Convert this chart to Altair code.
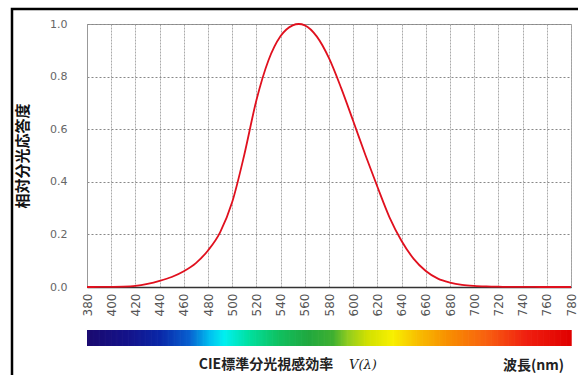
import altair as alt
import pandas as pd

# CIE photopic luminous efficiency V(lambda)
wavelengths = [380, 390, 400, 410, 420, 430, 440, 450, 460, 470, 480, 490, 500,
               510, 520, 530, 540, 550, 555, 560, 570, 580, 590, 600, 610, 620,
               630, 640, 650, 660, 670, 680, 690, 700, 710, 720, 730, 740, 750,
               760, 770, 780]
v_lambda = [0.00004, 0.00012, 0.0004, 0.0012, 0.004, 0.0116, 0.023, 0.038, 0.060,
            0.091, 0.139, 0.208, 0.323, 0.503, 0.710, 0.862, 0.954, 0.995, 1.000,
            0.995, 0.952, 0.870, 0.757, 0.631, 0.503, 0.381, 0.265, 0.175, 0.107,
            0.061, 0.032, 0.017, 0.0082, 0.0041, 0.0021, 0.00105, 0.00052, 0.00025,
            0.00012, 0.00006, 0.00003, 0.000015]

x_ticks = list(range(380, 781, 20))
y_ticks = [0.0, 0.2, 0.4, 0.6, 0.8, 1.0]

# spectrum colour bar stops (wavelength -> colour)
spectrum_stops = [380, 415, 440, 464, 481, 493, 513, 538, 562, 583, 595, 611,
                  632, 652, 677, 710, 742, 780]
spectrum_colors = ["#1a0a70", "#14148c", "#0a28a8", "#0860d0", "#00c0f0", "#00f0f0",
                   "#00e0a0", "#10c060", "#20a840", "#40b030", "#90cc20", "#d0e000",
                   "#f8f000", "#f8c000", "#f89000", "#f86010", "#f02010", "#e00000"]
spectrum_wl = list(range(380, 780))

title_text = ["CIE標準分光視感効率"]
vlabel_text = ["V(λ)"]
y_title = "相対分光応答度"
x_title = "波長(nm)"

W, H = 484, 263

curve_df = pd.DataFrame({"wl": wavelengths, "v": v_lambda})
spec_df = pd.DataFrame({"wl": spectrum_wl, "wl2": [w + 1.6 for w in spectrum_wl]})

x_scale = alt.Scale(domain=[380, 780], nice=False, zero=False)
y_scale = alt.Scale(domain=[0, 1], nice=False)

x_axis = alt.Axis(values=x_ticks, labelAngle=270, labelPadding=6,
                  labelFontSize=12, labelColor="#555", labelFont="DejaVu Sans",
                  ticks=False, domainColor="#333", domainWidth=1.5,
                  grid=True, gridColor="#aaa", gridDash=[2, 1],
                  titleX=446, titleY=78, titleAlign="center",
                  titleBaseline="middle", titleFont="Noto Sans CJK JP",
                  titleFontSize=14, titleFontWeight="bold",
                  titleColor="#222", labelOverlap=False)

line = alt.Chart(curve_df).mark_line(
    color="#e0101e", strokeWidth=1.8, interpolate="monotone"
).encode(
    x=alt.X("wl:Q", scale=x_scale, title=x_title, axis=x_axis),
    y=alt.Y("v:Q", scale=y_scale, title=y_title,
            axis=alt.Axis(values=y_ticks, format=".1f", labelPadding=20,
                          labelFontSize=11, labelColor="#666", labelFont="DejaVu Sans",
                          ticks=False, domainColor="#999", grid=True,
                          gridColor="#888", gridDash=[2, 2],
                          titleX=-65, titleY=H / 2, titleAngle=270,
                          titleAlign="center", titleBaseline="middle",
                          titleFont="Noto Sans CJK JP", titleFontSize=15,
                          titleFontWeight="bold", titleColor="#111")),
)

spectrum = alt.Chart(spec_df).mark_rect().encode(
    x=alt.X("wl:Q", scale=x_scale, title=x_title, axis=x_axis),
    x2="wl2:Q",
    y=alt.value(H + 43),
    y2=alt.value(H + 59),
    color=alt.Color("wl:Q", scale=alt.Scale(domain=spectrum_stops, range=spectrum_colors,
                                            interpolate="rgb"), legend=None),
)

cie_text = alt.Chart(pd.DataFrame({"t": title_text})).mark_text(
    font="Noto Sans CJK JP", fontSize=14, fontWeight="bold", color="#222",
    align="center", baseline="middle"
).encode(x=alt.value(179), y=alt.value(341), text="t:N")

v_text = alt.Chart(pd.DataFrame({"t": vlabel_text})).mark_text(
    font="DejaVu Serif", fontSize=13, fontStyle="italic", color="#222",
    align="center", baseline="middle"
).encode(x=alt.value(276), y=alt.value(341), text="t:N")

frame = alt.Chart(pd.DataFrame({"a": [0]})).mark_rect(
    fill=None, stroke="black", strokeWidth=2.5
).encode(x=alt.value(-75), x2=alt.value(W + 30), y=alt.value(-15), y2=alt.value(H + 140))

chart = alt.layer(line, spectrum, cie_text, v_text, frame).properties(
    width=W, height=H,
    autosize=alt.AutoSizeParams(type="none"),
    padding={"left": 87, "top": 24, "right": 7, "bottom": 88},
    background="white",
).configure_view(stroke="#999")

chart.save("out.html", embed_options={"renderer": "svg", "actions": False})
